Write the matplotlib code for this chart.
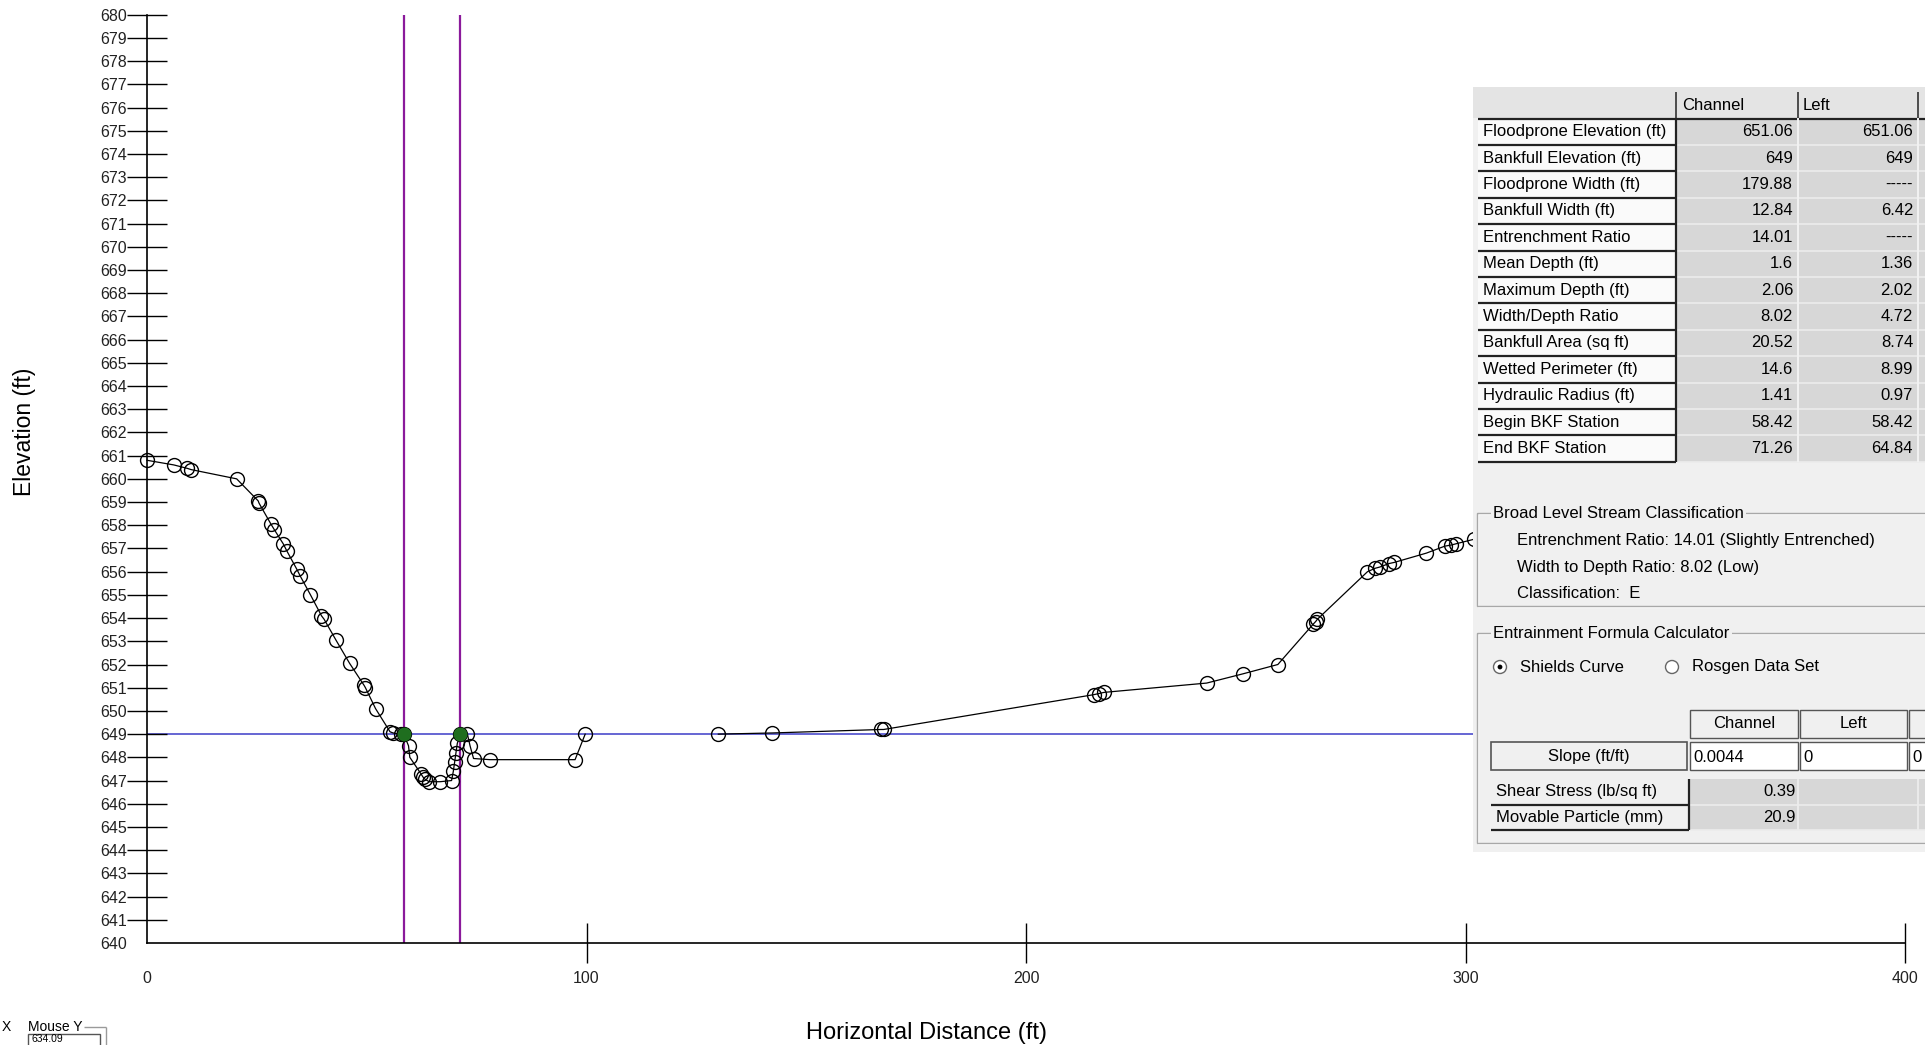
import matplotlib.pyplot as plt
from matplotlib.patches import Rectangle, Circle

plt.rcParams['font.family'] = ['Liberation Sans', 'DejaVu Sans']

# surveyed cross-section: left floodplain + channel (station ft, elevation ft)
station_a = [0.0, 6.1, 9.2, 10.0, 20.4, 25.3, 25.5, 28.2, 29.0, 31.0, 31.8, 34.1, 34.9,
             37.2, 39.7, 40.3, 43.0, 46.1, 49.4, 49.7, 52.0, 55.3, 56.0, 57.8, 58.4,
             59.5, 59.8, 62.3, 62.8, 63.3, 64.2, 66.7, 69.3, 69.7, 70.0, 70.3, 70.6,
             71.26, 72.9, 73.5, 74.3, 78.0, 97.4, 99.7]
elev_a = [660.8, 660.6, 660.45, 660.4, 660.0, 659.05, 658.95, 658.05, 657.8, 657.2, 656.9,
          656.1, 655.8, 655.0, 654.1, 653.95, 653.05, 652.05, 651.1, 651.0, 650.1, 649.1,
          649.05, 649.0, 649.0, 648.5, 648.0, 647.3, 647.15, 647.05, 646.95, 646.95,
          647.0, 647.4, 647.8, 648.2, 648.6, 649.0, 649.0, 648.5, 647.95, 647.9, 647.9, 649.0]

# right floodplain
station_b = [130.0, 142.2, 167.0, 167.6, 215.4, 216.6, 217.8, 241.1, 249.4, 257.3, 265.4,
             265.9, 266.3, 277.7, 279.5, 280.5, 282.6, 283.8, 291.1, 295.3, 296.8, 297.8,
             302.0, 310.0]
elev_b = [649.0, 649.05, 649.2, 649.2, 650.7, 650.75, 650.8, 651.2, 651.6, 652.0, 653.75,
          653.85, 653.95, 656.0, 656.15, 656.2, 656.35, 656.4, 656.8, 657.1, 657.15, 657.2,
          657.4, 657.8]

bkf_elev = 649.0
bkf_begin = 58.42
bkf_end = 71.26

row_labels = ["Floodprone Elevation (ft)", "Bankfull Elevation (ft)", "Floodprone Width (ft)",
              "Bankfull Width (ft)", "Entrenchment Ratio", "Mean Depth (ft)",
              "Maximum Depth (ft)", "Width/Depth Ratio", "Bankfull Area (sq ft)",
              "Wetted Perimeter (ft)", "Hydraulic Radius (ft)", "Begin BKF Station",
              "End BKF Station"]
channel_vals = ["651.06", "649", "179.88", "12.84", "14.01", "1.6", "2.06", "8.02",
                "20.52", "14.6", "1.41", "58.42", "71.26"]
left_vals = ["651.06", "649", "-----", "6.42", "-----", "1.36", "2.02", "4.72",
             "8.74", "8.99", "0.97", "58.42", "64.84"]

class_lines = ["Entrenchment Ratio: 14.01 (Slightly Entrenched)",
               "Width to Depth Ratio: 8.02 (Low)",
               "Classification:  E"]
slope_vals = ["0.0044", "0", "0"]
calc_labels = ["Shear Stress (lb/sq ft)", "Movable Particle (mm)"]
calc_vals = ["0.39", "20.9"]

W, H = 1925, 1045
fig = plt.figure(figsize=(W / 100, H / 100), dpi=100)

# ---- cross-section plot ----
ax = fig.add_axes([147 / W, 1 - 943 / H, (1905 - 147) / W, (943 - 14.7) / H])
ax.axhline(bkf_elev, color='#3c3cc8', lw=1.1, zorder=1)
ax.axvline(bkf_begin, color='#8b1a9b', lw=1.6, zorder=1)
ax.axvline(bkf_end, color='#8b1a9b', lw=1.6, zorder=1)
for xs, ys in [(station_a, elev_a), (station_b, elev_b)]:
    ax.plot(xs, ys, color='black', lw=0.9, marker='o', ms=10, mfc='none',
            mec='black', mew=1.0, zorder=3, clip_on=False)
ax.plot([bkf_begin, bkf_end], [bkf_elev, bkf_elev], ls='none', marker='o', ms=9,
        color='#1f6e1f', zorder=4)

ax.set_xlim(0, 400)
ax.set_ylim(640, 680)
ax.set_yticks(range(640, 681))
ax.set_xticks([0, 100, 200, 300, 400])
for s in ['top', 'right']:
    ax.spines[s].set_visible(False)
for s in ['left', 'bottom']:
    ax.spines[s].set_linewidth(1.2)
ax.tick_params(axis='y', direction='inout', length=29, width=1, pad=0, labelsize=11.5,
               labelcolor='#222222')
ax.tick_params(axis='x', direction='inout', length=29, width=1, pad=6, labelsize=11.5,
               labelcolor='#222222')
ax.yaxis.get_major_ticks()[0].tick1line.set_visible(False)
ax.xaxis.get_major_ticks()[0].tick1line.set_visible(False)

fig.text(25 / W, 1 - 432 / H, 'Elevation (ft)', rotation=90, ha='center', va='center',
         fontsize=16.5)
fig.text(927 / W, 1 - 1033 / H, 'Horizontal Distance (ft)', ha='center', va='center',
         fontsize=17)

# ---- side panel, drawn in pixel coords ----
pa = fig.add_axes([0, 0, 1, 1], zorder=10)
pa.set_xlim(0, W)
pa.set_ylim(H, 0)
pa.axis('off')
pa.patch.set_alpha(0)


def box(x0, y0, x1, y1, fc='none', ec='none', lw=0):
    pa.add_patch(Rectangle((x0, y0), x1 - x0, y1 - y0, facecolor=fc, edgecolor=ec, lw=lw))


def hline(x0, x1, y, color='#222222', lw=1.5):
    pa.plot([x0, x1], [y, y], color=color, lw=lw, solid_capstyle='butt')


def vline(x, y0, y1, color='#222222', lw=1.5):
    pa.plot([x, x], [y0, y1], color=color, lw=lw, solid_capstyle='butt')


fs = 12
box(1473, 87, W, 852, fc='#f0f0f0')

# results table
box(1473, 87, W, 118, fc='#e4e4e4')
for x in [1676, 1798, 1918]:
    vline(x, 92, 118, color='#333333', lw=1.2)
pa.text(1682, 106, 'Channel', fontsize=fs, va='center')
pa.text(1803, 106, 'Left', fontsize=fs, va='center')
hline(1478, W, 118.5, lw=1.6)

rh = 26.4
y0 = 118.5
for i, lab in enumerate(row_labels):
    ya = y0 + i * rh
    yb = ya + rh
    yc = (ya + yb) / 2
    box(1478, ya, 1676, yb, fc='#fafafa')
    box(1677, ya, W, yb, fc='#d7d7d7')
    hline(1478, 1676, yb, lw=1.6)
    hline(1677, W, yb, color='#ececec', lw=1.2)
    pa.text(1483, yc, lab, fontsize=fs, va='center')
    pa.text(1793, yc, channel_vals[i], fontsize=fs, va='center', ha='right')
    pa.text(1913, yc, left_vals[i], fontsize=fs, va='center', ha='right')
yend = y0 + len(row_labels) * rh
vline(1676, 118, yend, lw=1.6)
vline(1798, 118, yend, color='#f2f2f2', lw=1.4)
vline(1918, 118, yend, color='#f2f2f2', lw=1.4)


def group(x0, y0, x1, y1, title):
    box(x0 + 1, y0 + 1, x1 + 1, y1 + 1, ec='white', lw=1)
    box(x0, y0, x1, y1, ec='#a8a8a8', lw=1)
    pa.text(x0 + 16, y0, title, fontsize=fs, va='center',
            bbox=dict(boxstyle='square,pad=0.15', fc='#f0f0f0', ec='none'))


group(1477, 513, 1940, 606, 'Broad Level Stream Classification')
for j, line in enumerate(class_lines):
    pa.text(1517, 541 + j * 26.3, line, fontsize=fs, va='center')

group(1477, 633, 1940, 843, 'Entrainment Formula Calculator')
for cx, lab, sel in [(1500, 'Shields Curve', True), (1672, 'Rosgen Data Set', False)]:
    pa.add_patch(Circle((cx, 667), 6.5, facecolor='white', edgecolor='#666666', lw=1))
    if sel:
        pa.add_patch(Circle((cx, 667), 2.4, facecolor='black', edgecolor='none'))
    pa.text(cx + 20, 667, lab, fontsize=fs, va='center')

# calculator grid
for xa, xb, lab in [(1690, 1798, 'Channel'), (1800, 1907, 'Left'), (1909, 1960, '')]:
    box(xa, 710, xb, 738, fc='#f0f0f0', ec='#555555', lw=1)
    pa.text((xa + xb) / 2, 724, lab, fontsize=fs, va='center', ha='center')
box(1491, 742, 1687, 770, fc='#f0f0f0', ec='#555555', lw=1.2)
pa.text(1589, 756, 'Slope (ft/ft)', fontsize=fs, va='center', ha='center')
for (xa, xb), val in zip([(1690, 1798), (1800, 1907), (1909, 1960)], slope_vals):
    box(xa, 742, xb, 770, fc='white', ec='#555555', lw=1)
    pa.text(xa + 3, 757, val, fontsize=fs, va='center')

box(1690, 779, W, 830, fc='#d7d7d7')
vline(1798, 779, 830, color='#eeeeee', lw=1.2)
vline(1918, 779, 830, color='#eeeeee', lw=1.2)
for k, lab in enumerate(calc_labels):
    ya = 779 + k * 25.5
    yb = ya + 25.5
    yc = (ya + yb) / 2
    hline(1491, 1689, yb, lw=1.6)
    hline(1690, W, yb, color='#ececec', lw=1.2)
    pa.text(1496, yc, lab, fontsize=fs, va='center')
    pa.text(1796, yc, calc_vals[k], fontsize=fs, va='center', ha='right')
vline(1689, 779, 830, lw=1.6)

# mouse readout widget at the bottom-left
pa.text(2, 1027, 'X', fontsize=10, va='center')
pa.text(28, 1027, 'Mouse Y', fontsize=10, va='center')
hline(84, 106, 1027, color='#9a9a9a', lw=1)
vline(106, 1027, 1045, color='#9a9a9a', lw=1)
box(28, 1034, 100, 1046, fc='white', ec='#555555', lw=1)
pa.text(32, 1039.5, '634.09', fontsize=7.5, va='center')

fig.savefig('out.png', dpi=100)
